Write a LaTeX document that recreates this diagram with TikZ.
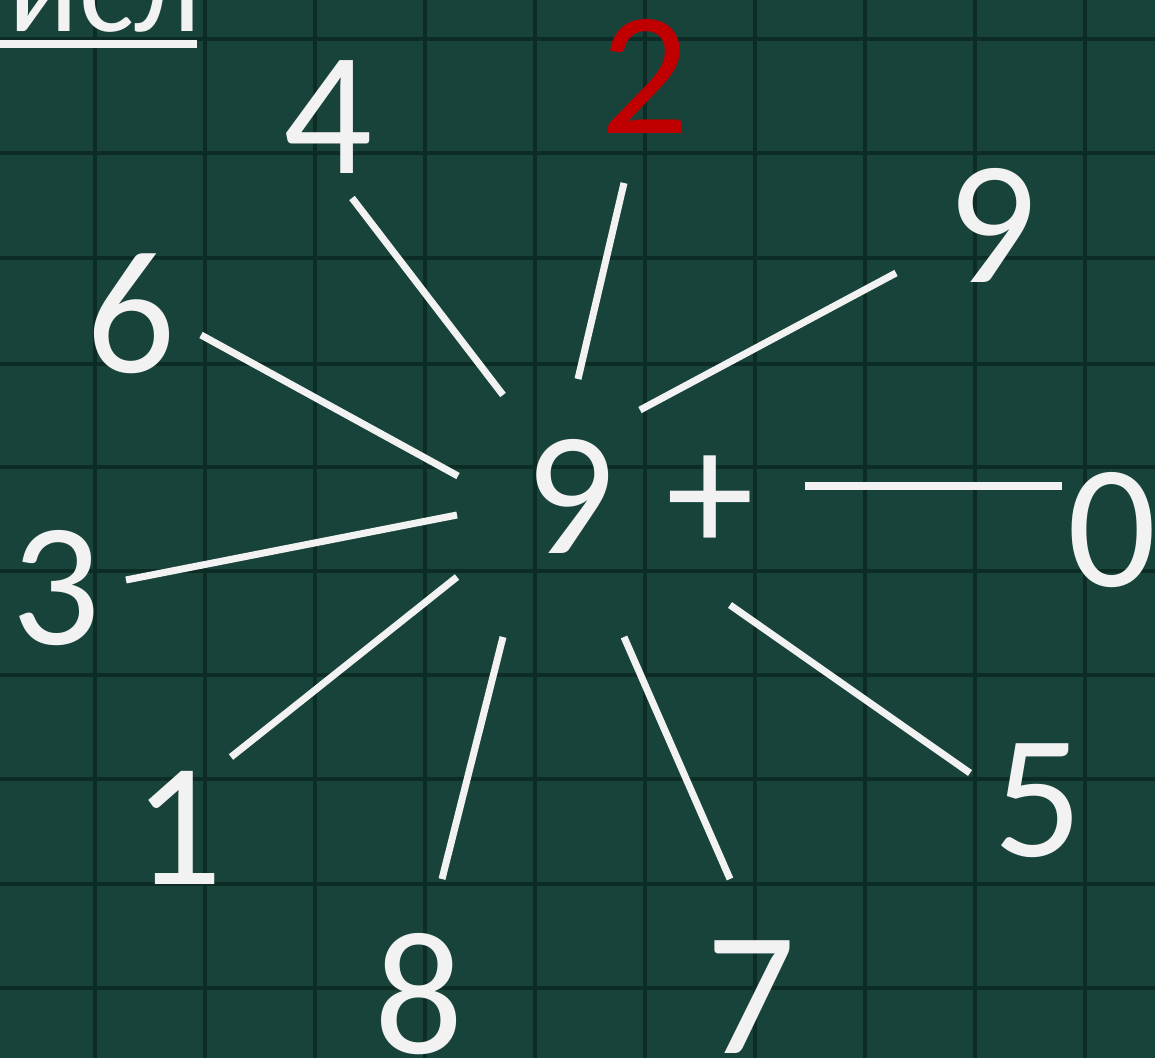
\documentclass[tikz,border=0pt]{standalone}
\usepackage{fontspec}
\setmainfont{Carlito}
\definecolor{board}{HTML}{18433A}
\definecolor{gridline}{HTML}{0E2C26}
\definecolor{chalk}{HTML}{F2F2F2}
\definecolor{redchalk}{HTML}{C00000}
\begin{document}
\begin{tikzpicture}[x=0.01cm,y=-0.01cm,
  digit/.style={inner sep=0pt, text=chalk, font=\fontsize{50}{54}\selectfont},
  ray/.style={draw=chalk, line width=2pt}]
\useasboundingbox (0,0) rectangle (1155,1058);
\clip (0,0) rectangle (1155,1058);
\fill[board] (0,0) rectangle (1155,1058);
\foreach \gx in {95,205,315,425,535,645,755,865,975,1085}
  \draw[gridline, line width=1.3pt] (\gx,0) -- (\gx,1058);
\foreach \gy in {39,153,258,364,467,571,675,779,884,988}
  \draw[gridline, line width=1.3pt] (0,\gy) -- (1155,\gy);

\node[inner sep=0pt, anchor=base west, text=chalk, font=\fontsize{37}{40}\selectfont] (title) at (8,32) {исл};
\fill[chalk] (0,40) rectangle (197,48);

\node[digit] (mid) at (570,496) {9};
\node[digit] (plus) at (710,504) {+};

\node[digit] (d4) at (328,117) {4};
\node[digit, text=redchalk] (d2) at (645,76) {2};
\node[digit] (d9) at (992,225) {9};
\node[digit] (d6) at (131,314) {6};
\node[digit] (d0) at (1112,530) {0};
\node[digit] (d3) at (56,588) {3};
\node[digit] (d1) at (178,828) {1};
\node[digit] (d5) at (1038,801) {5};
\node[digit] (d8) at (419,994) {8};
\node[digit] (d7) at (751,997) {7};

\coordinate (a4) at (352,198);  \coordinate (b4) at (503,395);
\coordinate (a2) at (624,183);  \coordinate (b2) at (578,379);
\coordinate (a9) at (896,273);  \coordinate (b9) at (640,410);
\coordinate (a6) at (201,335);  \coordinate (b6) at (458,476);
\coordinate (a0) at (1062,486); \coordinate (b0) at (805,486);
\coordinate (a3) at (126,580);  \coordinate (b3) at (457,515);
\coordinate (a1) at (231,757);  \coordinate (b1) at (457,577);
\coordinate (a8) at (442,879);  \coordinate (b8) at (503,637);
\coordinate (a7) at (730,879);  \coordinate (b7) at (624,637);
\coordinate (a5) at (970,773);  \coordinate (b5) at (730,605);

\foreach \k in {4,2,9,6,0,3,1,8,7,5}
  \draw[ray] (a\k) -- (b\k);
\end{tikzpicture}
\end{document}
